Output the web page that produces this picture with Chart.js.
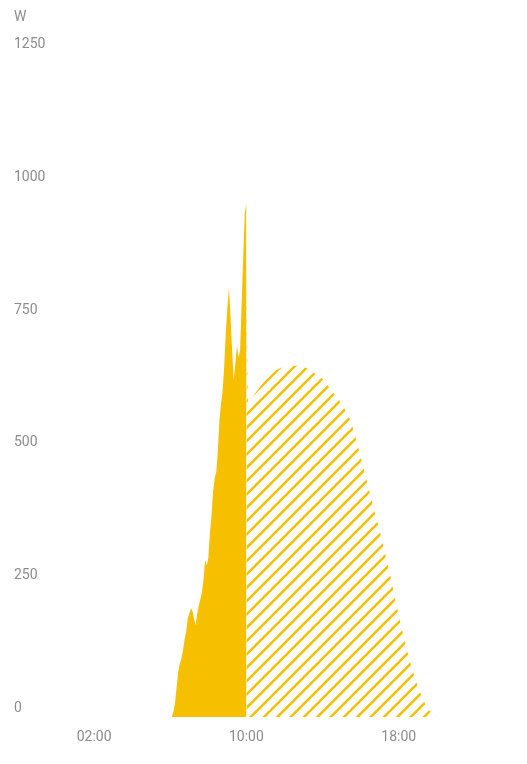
<!DOCTYPE html>
<html>
<head>
<meta charset="utf-8">
<script src="https://cdn.jsdelivr.net/npm/chart.js@4"></script>
<style>
  html, body { margin: 0; padding: 0; background: #fff; }
  #wrap { width: 527px; height: 764px; position: relative; }
</style>
</head>
<body>
<div id="wrap"><canvas id="powerChart"></canvas></div>
<script>
// measured power, 5 minute samples
var actualTimes = ['06:00', '06:05', '06:10', '06:15', '06:20', '06:25', '06:30', '06:35', '06:40', '06:45',
  '06:50', '06:55', '07:00', '07:05', '07:10', '07:15', '07:20', '07:25', '07:30', '07:35', '07:40', '07:45',
  '07:50', '07:55', '08:00', '08:05', '08:10', '08:15', '08:20', '08:25', '08:30', '08:35', '08:40', '08:45',
  '08:50', '08:55', '09:00', '09:05', '09:10', '09:15', '09:20', '09:25', '09:30', '09:35', '09:40', '09:45',
  '09:50', '09:55', '10:00'];
var actualWatts = [0, 0, 10, 26, 55, 85, 100, 110, 125, 145,
  160, 185, 195, 205, 200, 185, 173, 195, 210, 222, 236, 260,
  296, 285, 300, 347, 380, 425, 450, 462, 500, 560, 590, 615,
  660, 725, 770, 809, 755, 690, 635, 665, 700, 678, 690, 780,
  870, 950, 970];

// forecast for the rest of the day
var forecastTimes = ['10:00', '10:05', '10:30', '11:00', '11:30', '12:00', '12:30', '13:00', '13:30', '14:00',
  '14:30', '15:00', '15:30', '16:00', '16:30', '17:00', '17:30', '18:00', '18:30', '19:00', '19:30', '20:00'];
var forecastWatts = [880, 595, 612, 635, 652, 660, 662, 660, 650, 637,
  614, 590, 555, 490, 420, 350, 275, 192, 117, 58, 18, 0];

var yTicks = [0, 250, 500, 750, 1000, 1250];
var xTickLabels = ['02:00', '10:00', '18:00'];
var unitLabel = 'W';

var yellow = '#f6bf00';
var textGrey = '#8c8c8c';

function toHours(t) {
  var p = t.split(':');
  return parseInt(p[0], 10) + parseInt(p[1], 10) / 60;
}

function toPoints(times, values) {
  return times.map(function (t, i) {
    return { x: toHours(t), y: values[i] };
  });
}

// diagonal hatch for the forecast area
function makeHatch() {
  var size = 40;
  var step = size / 3;
  var c = document.createElement('canvas');
  c.width = size;
  c.height = size;
  var g = c.getContext('2d');
  g.strokeStyle = yellow;
  g.lineWidth = 2.5;
  g.lineCap = 'butt';
  for (var k = -2; k <= 8; k++) {
    var off = 7.7 + k * step;
    g.beginPath();
    g.moveTo(off - size - 5, size + 5);
    g.lineTo(off + 5, -5);
    g.stroke();
  }
  return g.createPattern(c, 'repeat');
}

var ctx = document.getElementById('powerChart').getContext('2d');

var chart = new Chart(ctx, {
  type: 'line',
  data: {
    datasets: [
      {
        label: 'Forecast',
        data: toPoints(forecastTimes, forecastWatts),
        fill: 'origin',
        backgroundColor: makeHatch(),
        borderWidth: 0,
        pointRadius: 0,
        cubicInterpolationMode: 'monotone'
      },
      {
        label: 'Power',
        data: toPoints(actualTimes, actualWatts),
        fill: 'origin',
        backgroundColor: yellow,
        borderWidth: 0,
        pointRadius: 0,
        tension: 0
      }
    ]
  },
  options: {
    responsive: true,
    maintainAspectRatio: false,
    animation: false,
    layout: { padding: { left: 14, right: 14, top: 0, bottom: 0 } },
    plugins: {
      legend: { display: false },
      tooltip: { enabled: false },
      title: {
        display: true,
        text: unitLabel,
        align: 'start',
        color: textGrey,
        font: { family: 'Roboto', size: 14, weight: 'normal' },
        padding: { top: 9, bottom: 28 }
      }
    },
    scales: {
      x: {
        type: 'linear',
        min: 0,
        max: 24,
        grid: { display: false, drawTicks: false },
        border: { display: false },
        afterBuildTicks: function (scale) {
          scale.ticks = xTickLabels.map(function (l) { return { value: toHours(l) }; });
        },
        afterFit: function (scale) { scale.height = 47; },
        ticks: {
          color: textGrey,
          font: { family: 'Roboto', size: 14 },
          padding: 12,
          maxRotation: 0,
          callback: function (v) {
            var h = Math.round(v);
            return (h < 10 ? '0' : '') + h + ':00';
          }
        }
      },
      y: {
        min: 0,
        max: 1250,
        grid: { display: false, drawTicks: false },
        border: { display: false },
        afterBuildTicks: function (scale) {
          scale.ticks = yTicks.map(function (v) { return { value: v }; });
        },
        afterFit: function (scale) { scale.width = 42; },
        ticks: {
          color: textGrey,
          font: { family: 'Roboto', size: 14 },
          crossAlign: 'far',
          labelOffset: -9,
          padding: 0,
          callback: function (v) { return String(v); }
        }
      }
    }
  }
});
</script>
</body>
</html>
